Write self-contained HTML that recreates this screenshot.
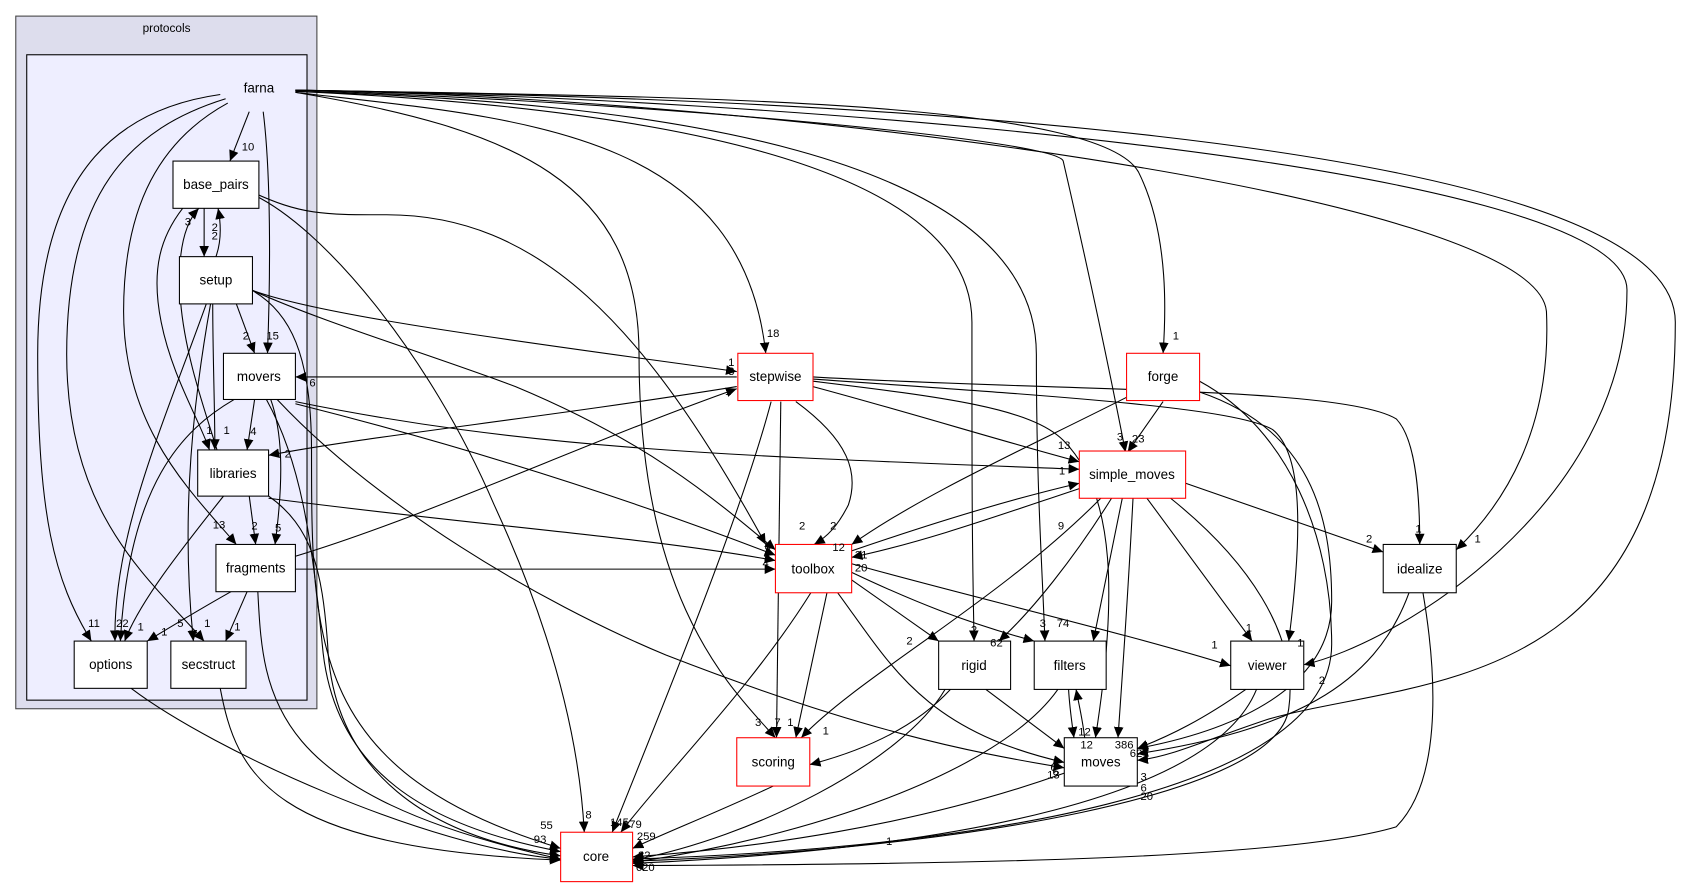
<!DOCTYPE html>
<html><head><meta charset="utf-8"><style>
html,body{margin:0;padding:0;background:#fff;}
svg{display:block;}
text{font-family:"Liberation Sans",sans-serif;}
.n{font-size:12.5px;text-anchor:middle;}
.l{font-size:10.5px;}
.e{fill:none;stroke:#000;stroke-width:1;marker-end:url(#a);}
</style></head><body>
<svg width="1684" height="887" viewBox="0 0 1568 826" xmlns="http://www.w3.org/2000/svg">
<defs><marker id="a" viewBox="0 0 10 10" refX="10" refY="5" markerWidth="10" markerHeight="10" markerUnits="userSpaceOnUse" orient="auto"><path d="M0,0.5 L10,5 L0,9.5z" fill="#000"/></marker></defs>
<rect x="14.6" y="15" width="280.4" height="645" fill="#dddded" stroke="#444" stroke-width="1"/>
<text class="n" x="155" y="30" style="font-size:11px">protocols</text>
<rect x="24.8" y="51" width="261" height="601" fill="#eeeeff" stroke="#000" stroke-width="1"/>
<text class="n" x="241" y="86">farna</text>

<g>
<path class="e" d="M205,88 C120,100 35,150 35,330 C35,480 50,540 85,597"/>
<path class="e" d="M210,92 C120,120 62,180 62,330 C62,480 140,540 190,597"/>
<path class="e" d="M212,96 C150,130 115,190 115,290 C115,400 180,460 220,507"/>
<path class="e" d="M232,104 L214,150"/>
<path class="e" d="M245,104 C252,160 252,250 249,329"/>
<path class="e" d="M275,86 C480,110 690,120 713,329"/>
<path class="e" d="M275,86 C480,120 595,170 595,330 C595,560 680,640 722,687"/>
<path class="e" d="M275,85 C600,100 905,150 905,300 C905,450 905,500 907,597"/>
<path class="e" d="M275,85 C600,95 965,140 965,330 C965,450 970,520 973,597"/>
<path class="e" d="M275,84 C600,95 985,130 990,150 C1020,280 1040,380 1048,421"/>
<path class="e" d="M275,84 C600,90 1020,90 1060,160 C1090,220 1085,300 1083,329"/>
<path class="e" d="M275,84 C700,90 1430,180 1440,290 C1445,400 1400,470 1356,512"/>
<path class="e" d="M275,84 C700,90 1515,150 1515,270 C1515,470 1300,600 1214,619"/>
<path class="e" d="M275,84 C700,90 1560,120 1560,300 C1560,650 1320,630 1180,670 C1120,690 1090,705 1059,708"/>
<path class="e" d="M190,194 L190,239"/>
<path class="e" d="M201,239 C206,225 206,210 203,194"/>
<path class="e" d="M170,194 C150,220 140,250 150,300 C160,350 185,390 195,419"/>
<path class="e" d="M202,419 C190,380 172,330 168,280 C165,240 170,210 185,194"/>
<path class="e" d="M233,180 C300,210 400,330 460,470 C520,600 540,700 544,775"/>
<path class="e" d="M233,178 C280,200 300,200 360,200 C500,200 600,300 713,507"/>
<path class="e" d="M220,283 L237,329"/>
<path class="e" d="M198,283 C198,330 200,380 200,419"/>
<path class="e" d="M192,283 C150,400 105,500 107,597"/>
<path class="e" d="M196,283 C175,400 170,500 180,597"/>
<path class="e" d="M234,270 C300,295 500,320 686,346"/>
<path class="e" d="M234,270 C300,300 400,330 480,360 C600,410 660,460 722,512"/>
<path class="e" d="M234,270 C270,290 290,330 290,420 C290,600 290,720 522,790"/>
<path class="e" d="M686,351 L275,351"/>
<path class="e" d="M686,360 C500,390 350,405 250,424"/>
<path class="e" d="M237,372 L230,419"/>
<path class="e" d="M252,372 C262,400 265,440 256,507"/>
<path class="e" d="M218,372 C170,400 120,450 112,597"/>
<path class="e" d="M248,372 C280,430 290,500 300,600 C310,720 400,770 522,793"/>
<path class="e" d="M258,372 C350,470 500,560 620,610 C800,680 900,700 991,715"/>
<path class="e" d="M275,376 C450,420 600,470 722,517"/>
<path class="e" d="M275,374 C500,420 700,425 1005,437"/>
<path class="e" d="M232,462 L238,507"/>
<path class="e" d="M208,462 C170,510 130,560 116,597"/>
<path class="e" d="M250,464 C450,490 600,500 722,522"/>
<path class="e" d="M250,462 C290,490 300,530 305,600 C310,720 400,780 522,797"/>
<path class="e" d="M215,551 C190,565 165,580 137,597"/>
<path class="e" d="M230,551 L210,597"/>
<path class="e" d="M275,530 L722,530"/>
<path class="e" d="M275,518 C400,480 550,410 686,362"/>
<path class="e" d="M240,551 C245,650 250,740 522,800"/>
<path class="e" d="M122,641 C200,700 400,790 522,800"/>
<path class="e" d="M205,641 C220,720 250,790 522,801"/>
<path class="e" d="M741,374 C790,410 800,440 790,470 C780,490 770,500 758,507"/>
<path class="e" d="M727,374 L723,687"/>
<path class="e" d="M718,374 C690,480 620,650 570,775"/>
<path class="e" d="M757,360 C850,385 930,410 1005,430"/>
<path class="e" d="M757,355 C880,370 960,380 990,410 C1040,460 1040,560 1020,687"/>
<path class="e" d="M757,353 C1000,370 1150,380 1185,400 C1210,420 1215,480 1200,597"/>
<path class="e" d="M757,351 C1000,365 1250,360 1300,390 C1320,410 1322,470 1322,507"/>
<path class="e" d="M1083,374 L1050,421"/>
<path class="e" d="M1049,370 C950,420 860,460 793,507"/>
<path class="e" d="M1117,365 C1220,400 1240,480 1240,560 C1240,640 1150,680 1059,697"/>
<path class="e" d="M1117,355 C1200,400 1240,500 1240,600 C1240,740 900,790 589,800"/>
<path class="e" d="M1005,455 C930,480 860,505 793,519"/>
<path class="e" d="M793,513 C860,490 940,465 1005,450"/>
<path class="e" d="M1104,450 L1288,514"/>
<path class="e" d="M1068,464 L1166,597"/>
<path class="e" d="M1055,464 C1050,560 1045,630 1041,687"/>
<path class="e" d="M1045,464 L1018,597"/>
<path class="e" d="M1035,464 C1000,520 960,570 930,597"/>
<path class="e" d="M1025,464 C930,560 800,630 746,687"/>
<path class="e" d="M1090,464 C1160,520 1210,590 1200,660 C1190,740 900,790 589,802"/>
<path class="e" d="M793,540 L874,597"/>
<path class="e" d="M793,533 C850,560 900,580 963,597"/>
<path class="e" d="M793,525 C900,555 1050,590 1146,620"/>
<path class="e" d="M770,552 L741,687"/>
<path class="e" d="M780,552 C830,620 860,680 991,710"/>
<path class="e" d="M755,552 C700,640 620,720 578,775"/>
<path class="e" d="M918,642 L991,697"/>
<path class="e" d="M885,642 C850,680 800,700 754,712"/>
<path class="e" d="M880,642 C840,710 700,780 589,801"/>
<path class="e" d="M995,642 C996,660 998,672 1000,687"/>
<path class="e" d="M1010,687 C1008,670 1005,658 1002,642"/>
<path class="e" d="M985,642 C930,720 750,780 589,803"/>
<path class="e" d="M1160,642 C1120,670 1090,685 1059,697"/>
<path class="e" d="M1170,642 C1130,740 900,790 589,804"/>
<path class="e" d="M1312,552 C1280,640 1200,680 1059,702"/>
<path class="e" d="M1325,552 C1340,640 1340,730 1300,770 C1200,800 900,805 589,806"/>
<path class="e" d="M991,720 C850,770 700,790 589,798"/>
<path class="e" d="M720,732 C660,760 620,775 589,790"/>
</g>

<g stroke-width="1">
<rect x="161" y="150" width="80" height="44" fill="#fff" stroke="#000"/>
<rect x="167" y="239" width="68" height="44" fill="#fff" stroke="#000"/>
<rect x="208" y="329" width="67" height="43" fill="#fff" stroke="#000"/>
<rect x="184" y="419" width="66" height="43" fill="#fff" stroke="#000"/>
<rect x="201" y="507" width="74" height="44" fill="#fff" stroke="#000"/>
<rect x="69" y="597" width="68" height="44" fill="#fff" stroke="#000"/>
<rect x="159" y="597" width="70" height="44" fill="#fff" stroke="#000"/>
<rect x="687" y="329" width="70" height="44" fill="#fff" stroke="#f00"/>
<rect x="1049" y="329" width="68" height="44" fill="#fff" stroke="#f00"/>
<rect x="1005" y="420" width="99" height="44" fill="#fff" stroke="#f00"/>
<rect x="722" y="507" width="71" height="45" fill="#fff" stroke="#f00"/>
<rect x="1288" y="507" width="68" height="45" fill="#fff" stroke="#000"/>
<rect x="874" y="597" width="67" height="45" fill="#fff" stroke="#000"/>
<rect x="963" y="597" width="67" height="45" fill="#fff" stroke="#000"/>
<rect x="1146" y="597" width="68" height="45" fill="#fff" stroke="#000"/>
<rect x="686" y="687" width="68" height="45" fill="#fff" stroke="#f00"/>
<rect x="991" y="687" width="68" height="45" fill="#fff" stroke="#000"/>
<rect x="522" y="775" width="67" height="46" fill="#fff" stroke="#f00"/>
</g>
<g class="n">
<text class="n" x="201" y="176">base_pairs</text>
<text class="n" x="201" y="265">setup</text>
<text class="n" x="241" y="355">movers</text>
<text class="n" x="217" y="445">libraries</text>
<text class="n" x="238" y="533">fragments</text>
<text class="n" x="103" y="623">options</text>
<text class="n" x="194" y="623">secstruct</text>
<text class="n" x="722" y="355">stepwise</text>
<text class="n" x="1083" y="355">forge</text>
<text class="n" x="1054" y="446">simple_moves</text>
<text class="n" x="757" y="534">toolbox</text>
<text class="n" x="1322" y="534">idealize</text>
<text class="n" x="907" y="624">rigid</text>
<text class="n" x="996" y="624">filters</text>
<text class="n" x="1180" y="624">viewer</text>
<text class="n" x="720" y="714">scoring</text>
<text class="n" x="1025" y="714">moves</text>
<text class="n" x="555" y="802">core</text>
</g>
<g class="l">
<text x="225" y="140">10</text><text x="248" y="316">15</text><text x="226" y="316">2</text>
<text x="172" y="210">3</text><text x="197" y="215">2</text><text x="197" y="223">2</text>
<text x="82" y="584">11</text><text x="108" y="584">22</text><text x="128" y="587">1</text>
<text x="150" y="592">1</text><text x="165" y="584">5</text><text x="190" y="584">1</text><text x="218" y="587">1</text>
<text x="198" y="492">13</text><text x="234" y="493">2</text><text x="256" y="495">5</text>
<text x="192" y="404">1</text><text x="208" y="404">1</text><text x="233" y="405">4</text><text x="265" y="426">2</text>
<text x="288" y="360">6</text>
<text x="714" y="314">18</text><text x="678" y="341">1</text><text x="678" y="349">3</text><text x="675" y="368">1</text>
<text x="703" y="676">3</text><text x="721" y="676">7</text><text x="733" y="676">1</text>
<text x="766" y="684">1</text>
<text x="844" y="600">2</text><text x="904" y="590">2</text><text x="922" y="602">62</text>
<text x="968" y="584">3</text><text x="984" y="584">74</text>
<text x="1040" y="410">3</text><text x="1054" y="412">23</text><text x="1092" y="316">1</text>
<text x="985" y="418">13</text><text x="986" y="442">1</text><text x="985" y="493">9</text>
<text x="775" y="513">12</text><text x="796" y="520">31</text><text x="796" y="532">20</text>
<text x="773" y="493">2</text><text x="744" y="493">2</text>
<text x="712" y="512">8</text><text x="711" y="522">9</text><text x="710" y="528">4</text>
<text x="1272" y="505">2</text><text x="1318" y="496">1</text><text x="1373" y="505">1</text>
<text x="1160" y="588">1</text><text x="1208" y="602">1</text><text x="1128" y="604">1</text><text x="1228" y="637">2</text>
<text x="975" y="725">13</text><text x="978" y="718">6</text><text x="980" y="722">6</text>
<text x="1004" y="685">12</text><text x="1006" y="697">12</text>
<text x="1038" y="697">386</text><text x="1052" y="705">62</text>
<text x="1062" y="727">3</text><text x="1062" y="745">20</text><text x="1062" y="737">6</text>
<text x="825" y="787">1</text>
<text x="503" y="772">55</text><text x="497" y="785">93</text><text x="545" y="762">8</text>
<text x="568" y="769">145</text><text x="580" y="771">179</text><text x="593" y="782">259</text>
<text x="594" y="800">82</text><text x="592" y="811">620</text>
</g>
</svg>
</body></html>
